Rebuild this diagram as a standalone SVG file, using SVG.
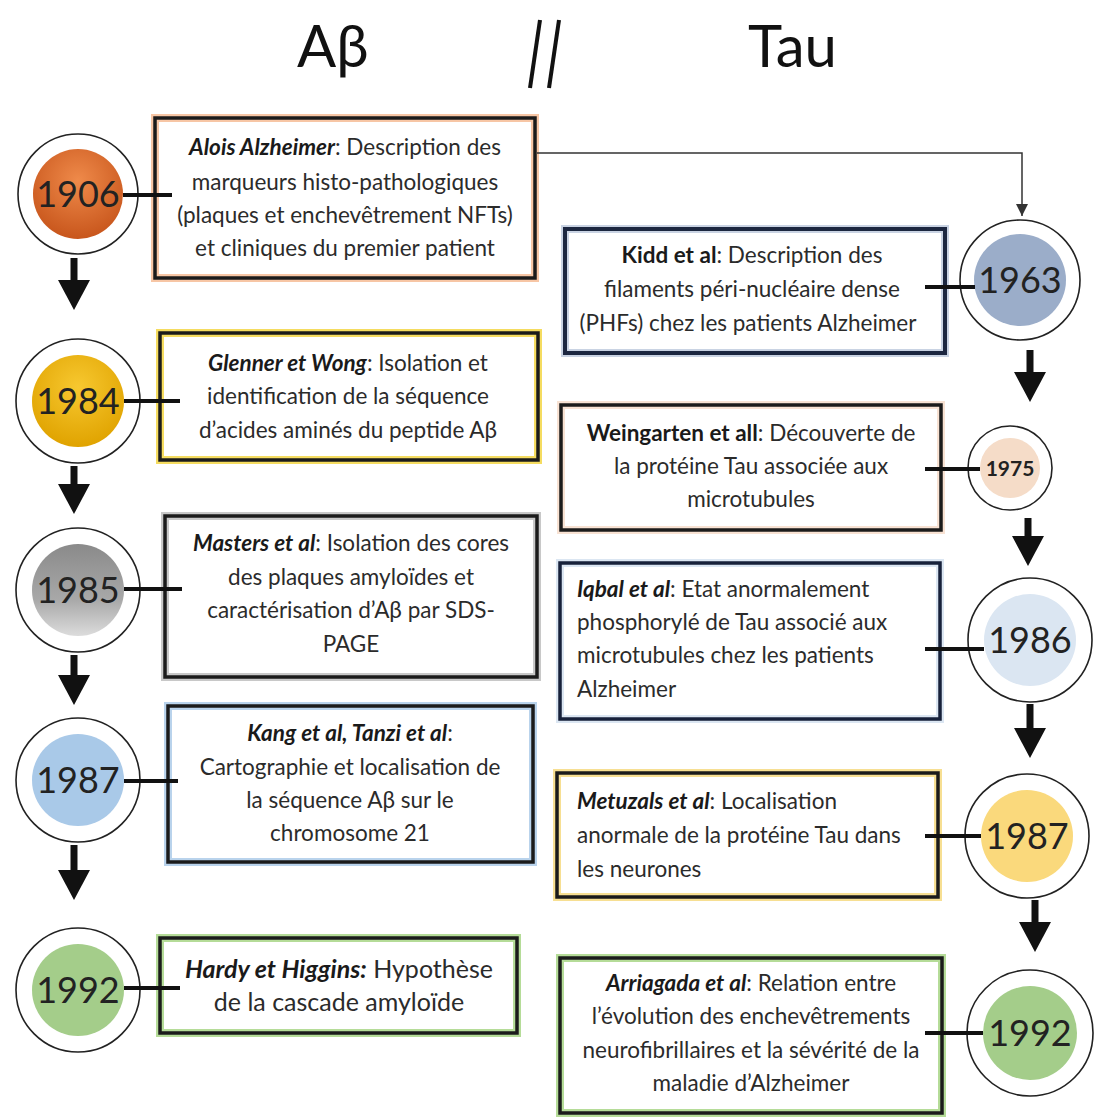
<svg xmlns="http://www.w3.org/2000/svg" width="1094" height="1117" viewBox="0 0 1094 1117">
<defs>
<style>
.t{font-family:Lato,"Liberation Sans",sans-serif;font-size:22.5px;fill:#2b2b2b}
.c{text-anchor:middle}
.a{font-weight:bold;font-style:italic;fill:#1a1a1a}
.b{font-weight:bold;fill:#1a1a1a}
.yr{font-family:Lato,"Liberation Sans",sans-serif;font-size:36px;fill:#222;text-anchor:middle}
.title{font-family:Lato,"Liberation Sans",sans-serif;font-size:58px;fill:#111}
.ring{fill:#fff;stroke:#222;stroke-width:1.6}
.glow{fill:#fff;stroke-width:8}
.frame{fill:none;stroke:#1b1b1b;stroke-width:3.5}
.link{stroke:#111;stroke-width:4}
.down{stroke:#111;stroke-width:7;marker-end:url(#big)}
.thin{fill:none;stroke:#333;stroke-width:1.5;marker-end:url(#small)}
</style>
<marker id="big" viewBox="0 0 30 32" markerWidth="30" markerHeight="32" refX="0" refY="16" orient="auto" markerUnits="userSpaceOnUse"><path d="M0,0 L30,16 L0,32 z" fill="#111"/></marker>
<marker id="small" viewBox="0 0 10 10" markerWidth="12" markerHeight="12" refX="10" refY="5" orient="auto" markerUnits="userSpaceOnUse"><path d="M0,0 L10,5 L0,10 z" fill="#333"/></marker>
<radialGradient id="gOr" cx="50%" cy="35%" r="65%"><stop offset="0" stop-color="#ef8a4a"/><stop offset="1" stop-color="#c8561c"/></radialGradient>
<radialGradient id="gYe" cx="50%" cy="35%" r="65%"><stop offset="0" stop-color="#f7c830"/><stop offset="1" stop-color="#e0a300"/></radialGradient>
<linearGradient id="gGr" x1="0" y1="0" x2="0" y2="1"><stop offset="0" stop-color="#8a8a8a"/><stop offset="0.6" stop-color="#a8a8a8"/><stop offset="1" stop-color="#dcdcdc"/></linearGradient>
</defs>
<rect width="1094" height="1117" fill="#fff"/>
<g id="titles">
<text class="title" x="297" y="67">Aβ</text>
<text class="title" x="748" y="67">Tau</text>
<line x1="540" y1="20" x2="530" y2="88" stroke="#111" stroke-width="4"/>
<line x1="559" y1="20" x2="549" y2="88" stroke="#111" stroke-width="4"/>
</g>
<g id="y1906"><circle class="ring" cx="78" cy="194" r="60"/><circle cx="78" cy="194" r="45" fill="url(#gOr)"/><text class="yr" x="78" y="207">1906</text></g>
<g id="y1984"><circle class="ring" cx="78" cy="401" r="62"/><circle cx="78" cy="401" r="46" fill="url(#gYe)"/><text class="yr" x="78" y="414">1984</text></g>
<g id="y1985"><circle class="ring" cx="78" cy="590" r="62"/><circle cx="78" cy="590" r="46" fill="url(#gGr)"/><text class="yr" x="78" y="603">1985</text></g>
<g id="y1987a"><circle class="ring" cx="78" cy="780" r="62"/><circle cx="78" cy="780" r="46" fill="#a9c9e8"/><text class="yr" x="78" y="793">1987</text></g>
<g id="y1992a"><circle class="ring" cx="78" cy="990" r="62"/><circle cx="78" cy="990" r="46" fill="#a4cd8a"/><text class="yr" x="78" y="1003">1992</text></g>
<g id="y1963"><circle class="ring" cx="1020" cy="280" r="60"/><circle cx="1020" cy="280" r="46" fill="#9badc9"/><text class="yr" x="1020" y="293">1963</text></g>
<g id="y1975"><circle class="ring" cx="1010" cy="468" r="42"/><circle cx="1010" cy="468" r="30" fill="#f5dcc8"/><text class="yr" x="1010" y="476" style="font-size:21px;font-weight:bold">1975</text></g>
<g id="y1986"><circle class="ring" cx="1030" cy="640" r="62"/><circle cx="1030" cy="640" r="46" fill="#dbe6f2"/><text class="yr" x="1030" y="653">1986</text></g>
<g id="y1987b"><circle class="ring" cx="1027" cy="836" r="62"/><circle cx="1027" cy="836" r="46" fill="#fad97c"/><text class="yr" x="1027" y="849">1987</text></g>
<g id="y1992b"><circle class="ring" cx="1030" cy="1033" r="63"/><circle cx="1030" cy="1033" r="47" fill="#a4cd8a"/><text class="yr" x="1030" y="1046">1992</text></g>
<g id="box1906">
<rect class="glow" x="155" y="118" width="380" height="160" stroke="#f7c6a5"/><rect class="frame" x="155" y="118" width="380" height="160"/>
<text class="t c" x="345" y="155"><tspan class="a">Alois Alzheimer</tspan>:  Description des</text>
<text class="t c" x="345" y="190">marqueurs histo-pathologiques</text>
<text class="t c" x="345" y="223">(plaques et enchevêtrement  NFTs)</text>
<text class="t c" x="345" y="256">et cliniques du premier patient</text>
</g>
<g id="box1984">
<rect class="glow" x="160" y="333" width="378" height="127" stroke="#f5dc60"/><rect class="frame" x="160" y="333" width="378" height="127"/>
<text class="t c" x="348" y="371"><tspan class="a">Glenner et Wong</tspan>: Isolation et</text>
<text class="t c" x="348" y="404">identification de la séquence</text>
<text class="t c" x="348" y="438">d’acides aminés du peptide Aβ</text>
</g>
<g id="box1985">
<rect class="glow" x="165" y="516" width="372" height="161" stroke="#c8c8c8"/><rect class="frame" x="165" y="516" width="372" height="161"/>
<text class="t c" x="351" y="551"><tspan class="a">Masters et al</tspan>: Isolation des cores</text>
<text class="t c" x="351" y="585">des plaques amyloïdes et</text>
<text class="t c" x="351" y="618">caractérisation d’Aβ par SDS-</text>
<text class="t c" x="351" y="652">PAGE</text>
</g>
<g id="box1987a">
<rect class="glow" x="168" y="706" width="365" height="156" stroke="#b9d3ec"/><rect class="frame" x="168" y="706" width="365" height="156"/>
<text class="t c" x="350" y="741"><tspan class="a">Kang et al, Tanzi et al</tspan>:</text>
<text class="t c" x="350" y="775">Cartographie  et localisation de</text>
<text class="t c" x="350" y="808">la séquence Aβ sur le</text>
<text class="t c" x="350" y="841">chromosome 21</text>
</g>
<g id="box1992a">
<rect class="glow" x="160" y="938" width="357" height="95" stroke="#b5dc98"/><rect class="frame" x="160" y="938" width="357" height="95"/>
<text class="t c" x="339" y="978" style="font-size:25px"><tspan class="a">Hardy et Higgins:</tspan> Hypothèse</text>
<text class="t c" x="339" y="1011" style="font-size:25px">de la cascade amyloïde</text>
</g>
<g id="box1963">
<rect class="glow" x="565" y="229" width="380" height="124" stroke="#c9d3e3"/><rect class="frame" x="565" y="229" width="380" height="124" style="stroke:#1c2740;stroke-width:4"/>
<text class="t c" x="752" y="263"><tspan class="b">Kidd et al</tspan>:  Description des</text>
<text class="t c" x="752" y="297">filaments péri-nucléaire dense</text>
<text class="t c" x="748" y="331">(PHFs) chez  les patients Alzheimer</text>
</g>
<g id="box1975">
<rect class="glow" x="561" y="405" width="380" height="125" stroke="#f8e2d3"/><rect class="frame" x="561" y="405" width="380" height="125"/>
<text class="t c" x="751" y="441"><tspan class="b">Weingarten et all</tspan>: Découverte de</text>
<text class="t c" x="751" y="474">la protéine Tau associée aux</text>
<text class="t c" x="751" y="507">microtubules</text>
</g>
<g id="box1986">
<rect class="glow" x="560" y="563" width="380" height="156" stroke="#dbe6f2"/><rect class="frame" x="560" y="563" width="380" height="156" style="stroke:#17213a"/>
<text class="t" x="577" y="597"><tspan class="a">Iqbal et al</tspan>: Etat anormalement</text>
<text class="t" x="577" y="630">phosphorylé de Tau associé aux</text>
<text class="t" x="577" y="663">microtubules chez les patients</text>
<text class="t" x="577" y="697">Alzheimer</text>
</g>
<g id="box1987b">
<rect class="glow" x="557" y="773" width="381" height="124" stroke="#f7df92"/><rect class="frame" x="557" y="773" width="381" height="124"/>
<text class="t" x="577" y="809"><tspan class="a">Metuzals et al</tspan>: Localisation</text>
<text class="t" x="577" y="843">anormale de la protéine Tau dans</text>
<text class="t" x="577" y="877">les neurones</text>
</g>
<g id="box1992b">
<rect class="glow" x="560" y="958" width="382" height="155" stroke="#b5dc98"/><rect class="frame" x="560" y="958" width="382" height="155"/>
<text class="t c" x="751" y="991"><tspan class="a">Arriagada et al</tspan>: Relation entre</text>
<text class="t c" x="751" y="1024">l’évolution des enchevêtrements</text>
<text class="t c" x="751" y="1058">neurofibrillaires et la sévérité de la</text>
<text class="t c" x="751" y="1091">maladie d’Alzheimer</text>
</g>
<g id="connectors">
<polyline class="thin" points="537,153 1022,153 1022,216"/>
<line class="link" x1="123" y1="195" x2="172" y2="195"/>
<line class="link" x1="124" y1="401" x2="180" y2="401"/>
<line class="link" x1="124" y1="589" x2="182" y2="589"/>
<line class="link" x1="124" y1="781" x2="178" y2="781"/>
<line class="link" x1="124" y1="988" x2="180" y2="988"/>
<line class="link" x1="925" y1="287" x2="975" y2="287"/>
<line class="link" x1="925" y1="469" x2="980" y2="469"/>
<line class="link" x1="925" y1="649" x2="984" y2="649"/>
<line class="link" x1="925" y1="836" x2="981" y2="836"/>
<line class="link" x1="925" y1="1033" x2="983" y2="1033"/>
<line class="down" x1="74" y1="258" x2="74" y2="280"/>
<line class="down" x1="74" y1="466" x2="74" y2="484"/>
<line class="down" x1="74" y1="655" x2="74" y2="675"/>
<line class="down" x1="74" y1="845" x2="74" y2="870"/>
<line class="down" x1="1030" y1="350" x2="1030" y2="372"/>
<line class="down" x1="1028" y1="518" x2="1028" y2="536"/>
<line class="down" x1="1030" y1="704" x2="1030" y2="728"/>
<line class="down" x1="1035" y1="900" x2="1035" y2="922"/>
</g>
</svg>
